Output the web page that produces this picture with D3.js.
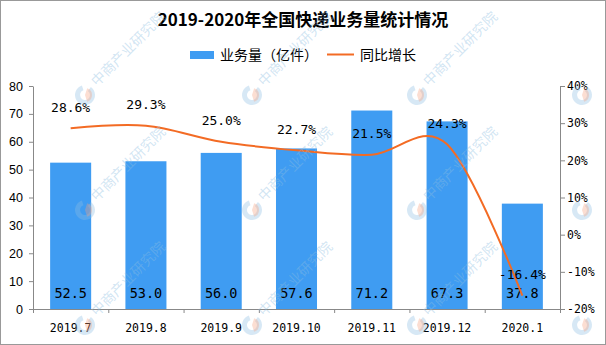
<!DOCTYPE html>
<html><head><meta charset="utf-8">
<script src="https://cdn.jsdelivr.net/npm/d3@7/dist/d3.min.js"></script>
<style>
html,body{margin:0;padding:0;background:#fff;}
svg{display:block;}
</style></head>
<body>
<svg id="chart" width="606" height="345"></svg>
<script>
const title = "2019-2020年全国快递业务量统计情况";
const categories = ["2019.7","2019.8","2019.9","2019.10","2019.11","2019.12","2020.1"];
const volume = [52.5, 53.0, 56.0, 57.6, 71.2, 67.3, 37.8];
const growth = [28.6, 29.3, 25.0, 22.7, 21.5, 24.3, -16.4];
const leftTicks = [0,10,20,30,40,50,60,70,80];
const rightTicks = [-20,-10,0,10,20,30,40];
const legendLabels = ["业务量（亿件）","同比增长"];
const watermark = "中商产业研究院";

const W = 606, H = 345;
const L = 33, R = 560, T = 86, B = 309;
const barColor = "#3f9cf2", lineColor = "#f36b24", axisColor = "#888";
const monoFont = "'DejaVu Sans Mono', 'Liberation Mono', monospace";
const cjkFont = "'Noto Sans CJK SC', 'Noto Sans', sans-serif";

const svg = d3.select("#chart");
svg.append("rect").attr("x",0).attr("y",0).attr("width",W).attr("height",H).attr("fill","#fff");

const x = d3.scaleBand().domain(categories).range([L,R]).paddingInner(0.455).paddingOuter(0.2275);
const xi = d3.scaleLinear().domain([0,categories.length]).range([L,R]);
const yL = d3.scaleLinear().domain([0,80]).range([B,T]);
const yR = d3.scaleLinear().domain([-20,40]).range([B,T]);
const cx = c => x(c) + x.bandwidth()/2;

// title
svg.append("text").attr("x",303).attr("y",26).attr("text-anchor","middle")
  .attr("font-family",cjkFont).attr("font-weight","bold").attr("font-size",17).attr("fill","#000")
  .text(title);

// legend
const lg = svg.append("g");
lg.append("rect").attr("x",190).attr("y",51).attr("width",24).attr("height",8).attr("fill",barColor);
lg.append("text").attr("x",220).attr("y",60).attr("font-family",cjkFont).attr("font-size",14).attr("fill","#000").text(legendLabels[0]);
lg.append("line").attr("x1",327).attr("x2",354).attr("y1",54.5).attr("y2",54.5).attr("stroke",lineColor).attr("stroke-width",2);
lg.append("text").attr("x",360).attr("y",60).attr("font-family",cjkFont).attr("font-size",14).attr("fill","#000").text(legendLabels[1]);

// bars
svg.append("g").selectAll("rect").data(categories).join("rect")
  .attr("x",c=>x(c)).attr("width",x.bandwidth())
  .attr("y",(c,i)=>yL(volume[i])).attr("height",(c,i)=>yL(0)-yL(volume[i]))
  .attr("fill",barColor);

// axes
const gl = svg.append("g").attr("transform",`translate(${L},0)`)
  .call(d3.axisLeft(yL).tickValues(leftTicks).tickSize(4).tickSizeOuter(0).tickPadding(6));
gl.selectAll("text").attr("font-family","'Liberation Sans', Arial, sans-serif").attr("font-size",12.5).attr("fill","#000");
const gr = svg.append("g").attr("transform",`translate(${R},0)`)
  .call(d3.axisRight(yR).tickValues(rightTicks).tickSize(5).tickSizeOuter(0).tickPadding(2).tickFormat(d=>d+"%"));
gr.selectAll("text").attr("font-family",monoFont).attr("font-size",11.5).attr("fill","#000");
const gx = svg.append("g").attr("transform",`translate(0,${B})`)
  .call(d3.axisBottom(xi).tickValues(d3.range(categories.length+1)).tickSize(4).tickSizeOuter(0).tickFormat(""));
[gl,gr,gx].forEach(g=>{ g.selectAll("path,line").attr("stroke",axisColor); });

// category labels
svg.append("g").selectAll("text").data(categories).join("text")
  .attr("x",c=>cx(c)).attr("y",332).attr("text-anchor","middle")
  .attr("font-family",monoFont).attr("font-size",11.5).attr("fill","#000").text(c=>c);

// bar value labels
svg.append("g").selectAll("text").data(categories).join("text")
  .attr("x",c=>cx(c)).attr("y",298).attr("text-anchor","middle")
  .attr("font-family",monoFont).attr("font-size",13.5).attr("fill","#000")
  .text((c,i)=>volume[i].toFixed(1));

// growth line
const line = d3.line().x(d=>cx(d.c)).y(d=>yR(d.v)).curve(d3.curveCardinal.tension(0));
svg.append("path").datum(categories.map((c,i)=>({c, v:growth[i]})))
  .attr("d",line).attr("fill","none").attr("stroke",lineColor).attr("stroke-width",2);

// growth labels
svg.append("g").selectAll("text").data(categories).join("text")
  .attr("x",c=>cx(c)).attr("y",(c,i)=>yR(growth[i])-16.5).attr("text-anchor","middle")
  .attr("font-family",monoFont).attr("font-size",13).attr("fill","#000")
  .text((c,i)=>growth[i].toFixed(1)+"%");

// watermarks (logo + rotated text); text only where it fits inside the picture
const wmCols = [85, 252, 417, 582];
const wmRows = [95, 210, 325];
const wm = svg.append("g").attr("pointer-events","none");
wmRows.forEach(ry=>wmCols.forEach(cxw=>{
  const g = wm.append("g").attr("transform",`translate(${cxw},${ry})`);
  g.append("path").attr("d",d3.arc()({innerRadius:5,outerRadius:10,startAngle:Math.PI*0.2,endAngle:Math.PI*1.9}))
    .attr("fill","rgba(140,190,225,0.35)");
  g.append("path").attr("d",d3.arc()({innerRadius:0,outerRadius:7,startAngle:Math.PI*0.1,endAngle:Math.PI*0.9}))
    .attr("fill","rgba(245,160,125,0.35)");
  if (cxw < 560) {
    g.append("text").attr("transform","translate(12,-8) rotate(-45)")
      .attr("font-family",cjkFont).attr("font-size",14)
      .attr("fill","rgba(140,190,225,0.4)").text(watermark);
  }
}));

// frame
svg.append("rect").attr("x",0.5).attr("y",0.5).attr("width",W-1).attr("height",H-1)
  .attr("fill","none").attr("stroke","#999");
</script>
</body></html>
